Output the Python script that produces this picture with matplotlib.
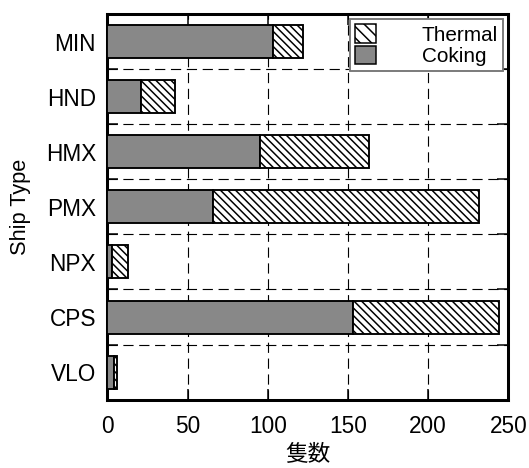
import numpy as np
import matplotlib
matplotlib.use('Agg')
import matplotlib.pyplot as plt
from matplotlib.patches import Patch

# data (bottom to top)
ship_types = ['VLO', 'CPS', 'NPX', 'PMX', 'HMX', 'HND', 'MIN']
coking = [4, 153, 3, 66, 95, 21, 103]
thermal = [2, 91, 10, 166, 68, 21, 19]
x_ticks = [0, 50, 100, 150, 200, 250]

plt.rcParams['font.family'] = ['Liberation Sans', 'Noto Sans CJK JP', 'DejaVu Sans']
plt.rcParams['hatch.linewidth'] = 0.8

dpi = 136
fig = plt.figure(figsize=(529 / dpi, 468 / dpi), dpi=dpi)
ax = fig.add_axes([0.203, 0.146, 0.758, 0.824])

y = np.arange(len(ship_types))
hatch = '\\' * 6
ax.barh(y, coking, height=0.6, color='#888888', edgecolor='black', linewidth=1.0, zorder=3)
ax.barh(y, thermal, left=coking, height=0.6, color='white', edgecolor='black',
        hatch=hatch, linewidth=1.0, zorder=3)

ax.set_xlim(0, 250)
ax.set_ylim(-0.5, len(ship_types) - 0.5)
ax.set_xticks(x_ticks)
ax.set_yticks(y)
ax.set_yticklabels(ship_types)
ax.set_yticks(y[:-1] + 0.5, minor=True)
ax.tick_params(axis='both', which='major', labelsize=12, direction='in', top=True, right=True)
ax.tick_params(axis='y', which='major', length=0, pad=6)
ax.tick_params(axis='x', which='major', length=6, width=0.8, pad=8)
ax.tick_params(axis='y', which='minor', direction='in', left=True, right=True, length=6, width=0.8)

ax.grid(axis='x', which='major', linestyle=(0, (9, 5)), color='black', linewidth=0.6, zorder=0)
ax.grid(axis='y', which='minor', linestyle=(0, (9, 5)), color='black', linewidth=0.6, zorder=0)
ax.set_axisbelow(True)

for s in ax.spines.values():
    s.set_linewidth(1.6)

ax.set_xlabel('隻数', fontsize=12, labelpad=3, family=['Noto Sans CJK JP'])
ax.set_ylabel('Ship Type', fontsize=11.5, labelpad=8)

handles = [Patch(facecolor='white', edgecolor='black', hatch='\\' * 4, linewidth=0.8),
           Patch(facecolor='#888888', edgecolor='black', linewidth=0.8)]
leg = ax.legend(handles, ['Thermal', 'Coking'], loc='upper right', fontsize=11,
                handlelength=1.0, handleheight=1.0, handletextpad=2.2, labelspacing=0.05,
                borderpad=0.25, borderaxespad=0.25, fancybox=False, framealpha=1)
leg.get_frame().set_edgecolor('#777777')
leg.get_frame().set_linewidth(1.0)

fig.savefig('out.png', dpi=dpi)
